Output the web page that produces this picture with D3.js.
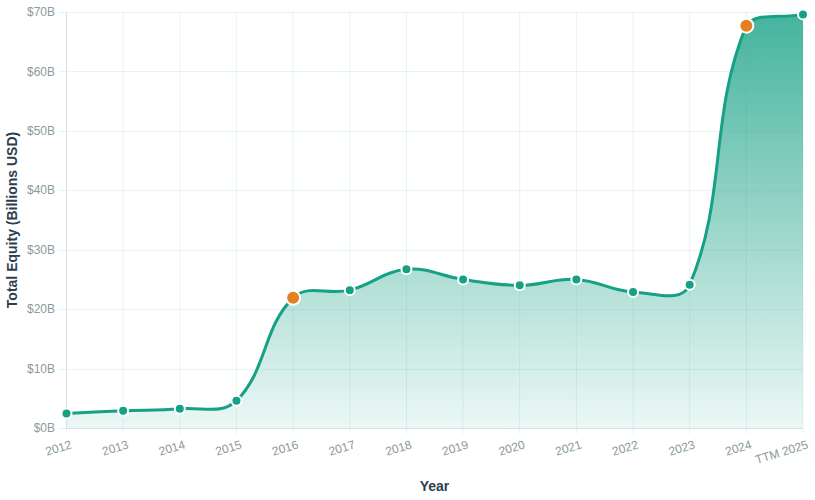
<!DOCTYPE html>
<html>
<head>
<meta charset="utf-8">
<script src="https://cdn.jsdelivr.net/npm/d3@7"></script>
<style>
  html, body { margin: 0; padding: 0; background: #fff; }
  svg { display: block; font-family: "Liberation Sans", Arial, Helvetica, sans-serif; }
</style>
</head>
<body>
<div id="chart"></div>
<script>
// data
const years = ['2012', '2013', '2014', '2015', '2016', '2017', '2018', '2019', '2020', '2021', '2022', '2023', '2024', 'TTM 2025'];
const equity = [2.45, 2.9, 3.25, 4.6, 21.9, 23.2, 26.7, 25.0, 24.0, 25.0, 22.9, 24.1, 67.7, 69.6];
const highlighted = ['2016', '2024'];
const yTicks = [0, 10, 20, 30, 40, 50, 60, 70];

const width = 815, height = 500;
const margin = {top: 12, right: 12, bottom: 72, left: 66};
const teal = '#16a085', orange = '#e67e22';

let svg = d3.select('#chart').append('svg')
    .attr('width', width)
    .attr('height', height);

let x = d3.scalePoint()
    .domain(years)
    .range([margin.left + 0.5, width - margin.right]);
let y = d3.scaleLinear()
    .domain([0, 70])
    .range([height - margin.bottom, margin.top]);

// gradient fill
let defs = svg.append('defs');
let grad = defs.append('linearGradient')
    .attr('id', 'fillGrad')
    .attr('gradientUnits', 'userSpaceOnUse')
    .attr('x1', 0).attr('x2', 0)
    .attr('y1', y(70)).attr('y2', y(0));
grad.append('stop').attr('offset', '0%').attr('stop-color', teal).attr('stop-opacity', 0.8);
grad.append('stop').attr('offset', '100%').attr('stop-color', teal).attr('stop-opacity', 0.08);

// grid
let grid = svg.append('g');
grid.selectAll('line.h')
    .data(yTicks)
    .join('line')
    .attr('class', 'h')
    .attr('x1', margin.left - 8).attr('x2', width - margin.right)
    .attr('y1', d => Math.round(y(d)) + 0.5).attr('y2', d => Math.round(y(d)) + 0.5)
    .attr('stroke', 'rgba(22,160,133,0.1)');
grid.selectAll('line.v')
    .data(years)
    .join('line')
    .attr('class', 'v')
    .attr('x1', d => x(d)).attr('x2', d => x(d))
    .attr('y1', margin.top).attr('y2', height - margin.bottom + 6)
    .attr('stroke', 'rgba(22,160,133,0.1)');

// chart.js style cubic spline (tension 0.4)
function splinePath(pts, tension, close) {
    let cps = pts.map((p, i) => {
        let prev = pts[Math.max(i - 1, 0)], next = pts[Math.min(i + 1, pts.length - 1)];
        let d01 = Math.hypot(p[0] - prev[0], p[1] - prev[1]);
        let d12 = Math.hypot(next[0] - p[0], next[1] - p[1]);
        let s01 = d01 / (d01 + d12) || 0, s12 = d12 / (d01 + d12) || 0;
        let fa = tension * s01, fb = tension * s12;
        let dx = next[0] - prev[0], dy = next[1] - prev[1];
        let clampY = v => Math.max(margin.top, Math.min(height - margin.bottom, v));
        return {
            c1: [p[0] - fa * dx, clampY(p[1] - fa * dy)],
            c2: [p[0] + fb * dx, clampY(p[1] + fb * dy)]
        };
    });
    let path = d3.path();
    path.moveTo(pts[0][0], pts[0][1]);
    for (let i = 1; i < pts.length; i++) {
        path.bezierCurveTo(cps[i - 1].c2[0], cps[i - 1].c2[1], cps[i].c1[0], cps[i].c1[1], pts[i][0], pts[i][1]);
    }
    if (close) {
        path.lineTo(pts[pts.length - 1][0], y(0));
        path.lineTo(pts[0][0], y(0));
        path.closePath();
    }
    return path.toString();
}

let pts = years.map((d, i) => [x(d), y(equity[i])]);

svg.append('path')
    .attr('d', splinePath(pts, 0.4, true))
    .attr('fill', 'url(#fillGrad)');

// axes lines
svg.append('line')
    .attr('x1', margin.left + 0.5).attr('x2', margin.left + 0.5)
    .attr('y1', margin.top).attr('y2', height - margin.bottom)
    .attr('stroke', '#d3e2df');
svg.append('line')
    .attr('x1', margin.left).attr('x2', width - margin.right)
    .attr('y1', Math.round(y(0)) + 0.5).attr('y2', Math.round(y(0)) + 0.5)
    .attr('stroke', '#d3e2df');

svg.append('path')
    .attr('d', splinePath(pts, 0.4, false))
    .attr('fill', 'none')
    .attr('stroke', teal)
    .attr('stroke-width', 3);

// points
svg.append('g')
    .selectAll('circle')
    .data(years)
    .join('circle')
    .attr('cx', d => x(d))
    .attr('cy', (d, i) => y(equity[i]))
    .attr('r', d => highlighted.includes(d) ? 7 : 5)
    .attr('fill', d => highlighted.includes(d) ? orange : teal)
    .attr('stroke', '#fff')
    .attr('stroke-width', 2);

// y tick labels
svg.append('g')
    .selectAll('text')
    .data(yTicks)
    .join('text')
    .attr('x', margin.left - 11)
    .attr('y', d => y(d))
    .attr('dy', '0.35em')
    .attr('text-anchor', 'end')
    .attr('fill', '#8c9a9b')
    .attr('font-size', 12)
    .text(d => `$${d}B`);

// x tick labels
svg.append('g')
    .selectAll('text')
    .data(years)
    .join('text')
    .attr('transform', d => `translate(${x(d) + 6},${height - margin.bottom + 20}) rotate(-17)`)
    .attr('text-anchor', 'end')
    .attr('fill', '#8c9a9b')
    .attr('font-size', 12)
    .text(d => d);

// axis titles
svg.append('text')
    .attr('x', (margin.left + width - margin.right) / 2)
    .attr('y', 491)
    .attr('text-anchor', 'middle')
    .attr('fill', '#2c3e50')
    .attr('font-size', 14)
    .attr('font-weight', 'bold')
    .text('Year');
svg.append('text')
    .attr('transform', `translate(17,${(margin.top + height - margin.bottom) / 2}) rotate(-90)`)
    .attr('text-anchor', 'middle')
    .attr('fill', '#2c3e50')
    .attr('font-size', 14)
    .attr('font-weight', 'bold')
    .text('Total Equity (Billions USD)');
</script>
</body>
</html>
